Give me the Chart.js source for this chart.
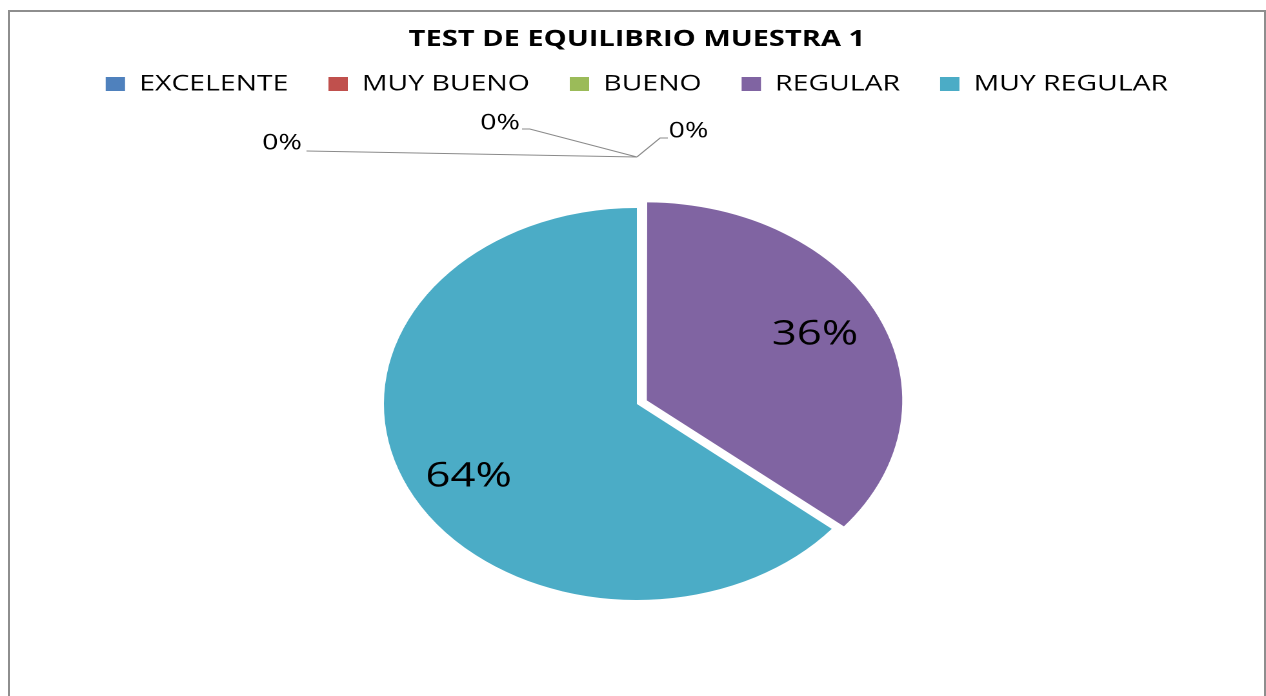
<!DOCTYPE html>
<html>
<head>
<meta charset="utf-8">
<script src="https://cdn.jsdelivr.net/npm/chart.js@4.4.1/dist/chart.umd.min.js"></script>
<style>
  html, body { margin: 0; padding: 0; background: #fff; overflow: hidden; }
  #marco { position: absolute; left: 8px; top: 10px; width: 1258px; height: 700px; border: 2px solid #8e8e8e; box-sizing: border-box; }
  /* el grafico original esta estirado en horizontal */
  #contenedor { position: absolute; left: 0; top: 0; width: 981px; height: 703px; transform: scaleX(1.2905); transform-origin: 0 0; }
</style>
</head>
<body>
<div id="marco"></div>
<div id="contenedor"><canvas id="graficoPie"></canvas></div>
<script>
var categorias = ['EXCELENTE', 'MUY BUENO', 'BUENO', 'REGULAR', 'MUY REGULAR'];
var porcentajes = [0, 0, 0, 36, 64];
var colores = ['#4F81BD', '#C0504D', '#9BBB59', '#8064A2', '#4BACC6'];
var separacion = [0, 0, 0, 34, 0];

// posicion de las etiquetas de 0% (relativa al punto de union de las guias)
var guiasCero = [
    { texto: [-275, -14], linea: [[-256, -6]] },
    { texto: [-106, -34], linea: [[-83, -28], [-89, -28]] },
    { texto: [40, -26], linea: [[18, -19], [24, -19]] }
];

var etiquetasPlugin = {
    id: 'etiquetas',
    afterDatasetsDraw: function(chart) {
        var ctx = chart.ctx;
        var meta = chart.getDatasetMeta(0);
        var total = porcentajes.reduce(function(a, b) { return a + b; }, 0);
        var nCero = 0;
        ctx.save();
        ctx.textAlign = 'center';
        ctx.textBaseline = 'middle';
        ctx.fillStyle = '#000';
        meta.data.forEach(function(arc, i) {
            var p = arc.getProps(['x', 'y', 'startAngle', 'endAngle', 'outerRadius'], true);
            var texto = Math.round(porcentajes[i] / total * 100) + '%';
            if (porcentajes[i] > 0) {
                var mid = (p.startAngle + p.endAngle) / 2 - 0.047;
                var r = p.outerRadius * 0.753 + separacion[i] / 4;
                ctx.font = '34px "Open Sans"';
                ctx.fillText(texto, p.x + Math.cos(mid) * r, p.y + Math.sin(mid) * r + 4);
            } else {
                var g = guiasCero[nCero++];
                var ax = p.x + Math.cos(p.startAngle) * (p.outerRadius + 51);
                var ay = p.y + Math.sin(p.startAngle) * (p.outerRadius + 51);
                ctx.strokeStyle = '#8a8a8a';
                ctx.lineWidth = 1;
                ctx.beginPath();
                ctx.moveTo(ax, ay);
                g.linea.forEach(function(pt) { ctx.lineTo(ax + pt[0], ay + pt[1]); });
                ctx.stroke();
                ctx.font = '22px "Open Sans"';
                ctx.fillText(texto, ax + g.texto[0], ay + g.texto[1]);
            }
        });
        ctx.restore();
    }
};

Chart.defaults.font.family = '"Open Sans"';
Chart.defaults.color = '#000';

new Chart(document.getElementById('graficoPie'), {
    type: 'pie',
    data: {
        labels: categorias,
        datasets: [{
            data: porcentajes,
            backgroundColor: colores,
            borderWidth: 0,
            offset: separacion,
            radius: 196
        }]
    },
    options: {
        responsive: true,
        maintainAspectRatio: false,
        animation: false,
        devicePixelRatio: 2,
        layout: { padding: { left: 6, right: 0, top: 0, bottom: 0 } },
        plugins: {
            title: {
                display: true,
                text: 'TEST DE EQUILIBRIO MUESTRA 1',
                font: { size: 22.5, weight: 'bold' },
                color: '#000',
                padding: { top: 26, bottom: -11 }
            },
            legend: {
                position: 'top',
                labels: {
                    boxWidth: 15,
                    boxHeight: 14,
                    padding: 31,
                    font: { size: 22 },
                    color: '#000'
                }
            },
            tooltip: { enabled: false }
        }
    },
    plugins: [etiquetasPlugin]
});
</script>
</body>
</html>
